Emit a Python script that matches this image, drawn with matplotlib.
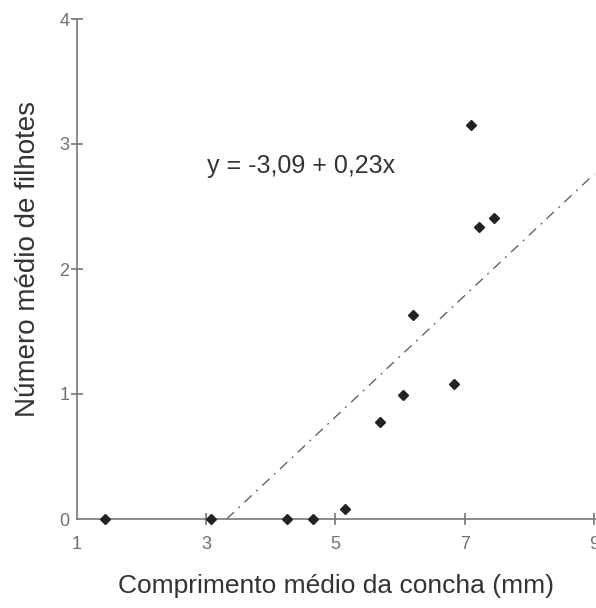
import matplotlib
matplotlib.use("Agg")
from matplotlib import pyplot as plt

plt.rcParams['font.family'] = ['Liberation Sans', 'DejaVu Sans']

# mean shell length (mm) and mean number of offspring
comprimento = [1.44, 3.08, 4.25, 4.65, 5.15, 5.69, 6.05, 6.20, 6.84, 7.10, 7.22, 7.45]
filhotes = [0.0, 0.0, 0.0, 0.0, 0.08, 0.78, 0.99, 1.63, 1.08, 3.15, 2.34, 2.41]

# fitted line as drawn
linha_x = [3.32, 9.0]
linha_y = [0.0, 2.76]

x_ticks = [1, 3, 5, 7, 9]
y_ticks = [0, 1, 2, 3, 4]

fig = plt.figure(figsize=(5.96, 6.08), dpi=100)
ax = fig.add_axes([76.5/596, 89/608, (596-76.5)/596, 500/608])

ax.plot(linha_x, linha_y, color='#555555', lw=0.9, linestyle=(0, (8, 5, 1.5, 5)))
ax.plot(comprimento, filhotes, linestyle='none', marker='D', ms=5.5,
        color='#222222', clip_on=False, zorder=3)

ax.set_xlim(1, 9 + 1.7/64.75)
ax.set_ylim(0, 4)
ax.set_xticks(x_ticks)
ax.set_yticks(y_ticks)
ax.set_xticklabels([str(v) for v in x_ticks])
ax.set_yticklabels([str(v) for v in y_ticks])

for s in ['top', 'right']:
    ax.spines[s].set_visible(False)
for s in ['left', 'bottom']:
    ax.spines[s].set_color('#777777')
    ax.spines[s].set_linewidth(1.2)

ax.tick_params(direction='inout', length=8, width=1.2, color='#777777',
               labelcolor='#707070', labelsize=13, pad=1)
ax.tick_params(axis='x', pad=8)
for lab in ax.get_xticklabels() + ax.get_yticklabels():
    lab.set_family(['Liberation Sans Narrow', 'Liberation Sans'])
ax.xaxis.get_major_ticks()[0].tick1line.set_visible(False)
ax.yaxis.get_major_ticks()[0].tick1line.set_visible(False)

ax.text(3.02, 2.82, 'y = -3,09 + 0,23x', fontsize=18, color='#333333',
        va='center', ha='left')

ax.set_xlabel('Comprimento médio da concha (mm)', fontsize=19, color='#333333', labelpad=15)
ax.set_ylabel('Número médio de filhotes', fontsize=20, color='#333333')
ax.yaxis.set_label_coords(-0.068, 0.52)

fig.savefig('out.png', dpi=100)
